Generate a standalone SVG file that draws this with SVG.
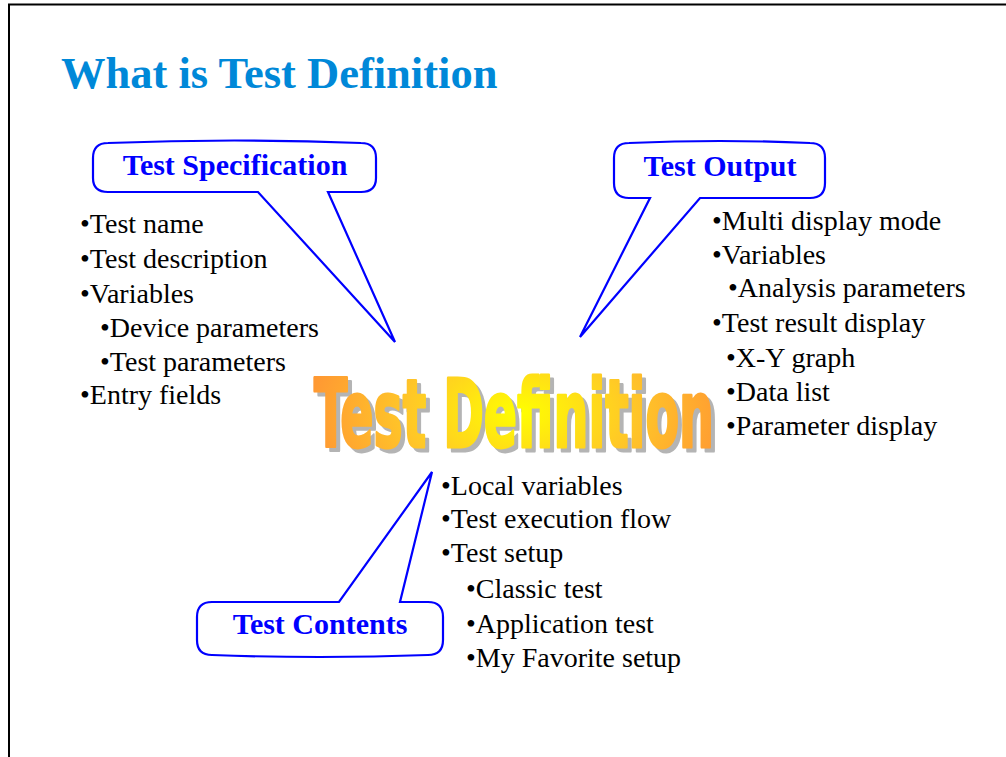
<svg xmlns="http://www.w3.org/2000/svg" width="1006" height="757" viewBox="0 0 1006 757">
<defs>
<style>
.title{font-family:"Liberation Serif","Times New Roman",serif;font-weight:bold;font-size:44.5px;fill:#0088d8}
.call{fill:#fff;stroke:#0000ff;stroke-width:2.2;stroke-linejoin:miter}
.clab{font-family:"Liberation Serif","Times New Roman",serif;font-weight:bold;font-size:30px;fill:#0000ff;text-anchor:middle}
.b{font-family:"Liberation Serif","Times New Roman",serif;font-size:28px;fill:#000}
.wa{font-family:"DejaVu Sans Condensed","DejaVu Sans",sans-serif;font-weight:bold;font-size:95px;stroke-width:3;stroke-linejoin:round}
</style>
<radialGradient id="g" gradientUnits="userSpaceOnUse" cx="520" cy="412" r="210" gradientTransform="translate(520 412) scale(1 0.6) translate(-520 -412)">
<stop offset="0" stop-color="#ffff00"/>
<stop offset="0.55" stop-color="#ffc628"/>
<stop offset="1" stop-color="#ff9933"/>
</radialGradient>
</defs>
<rect x="0" y="0" width="1006" height="757" fill="#fff"/>
<path d="M9,757 L9,4.5 L1006,4.5" fill="none" stroke="#000" stroke-width="2"/>
<text class="title" x="61" y="88">What is Test Definition</text>

<g id="wordart">
<text class="wa" x="318" y="451" textLength="400" lengthAdjust="spacingAndGlyphs" fill="#b4b4b4" stroke="#b4b4b4">Test Definition</text>
<text class="wa" x="314" y="447" textLength="400" lengthAdjust="spacingAndGlyphs" fill="url(#g)" stroke="url(#g)">Test Definition</text>
</g>

<g id="connectors">
</g>

<g id="spec">
<path class="call" d="M108,143 Q234,138 361,143 Q376,143 376,158 L376,178 Q376,192 361,192 L328,192 L395,342 L258,192 L108,192 Q93,192 93,178 L93,158 Q93,143 108,143 Z"/>
<text class="clab" x="235" y="175">Test Specification</text>
<text class="b" x="80" y="233">•Test name</text>
<text class="b" x="80" y="268">•Test description</text>
<text class="b" x="80" y="303">•Variables</text>
<text class="b" x="100" y="337">•Device parameters</text>
<text class="b" x="100" y="371">•Test parameters</text>
<text class="b" x="80" y="404">•Entry fields</text>
</g>

<g id="output">
<path class="call" d="M629,143 Q720,139 810,143 Q825,143 825,158 L825,183 Q825,198 810,198 L700,198 L580,337 L650,198 L629,198 Q614,198 614,183 L614,158 Q614,143 629,143 Z"/>
<text class="clab" x="720" y="176">Test Output</text>
<text class="b" x="712" y="230">•Multi display mode</text>
<text class="b" x="712" y="264">•Variables</text>
<text class="b" x="728" y="297">•Analysis parameters</text>
<text class="b" x="712" y="332">•Test result display</text>
<text class="b" x="726" y="367">•X-Y graph</text>
<text class="b" x="726" y="401">•Data list</text>
<text class="b" x="726" y="435">•Parameter display</text>
</g>

<g id="contents">
<path class="call" d="M212,602 L339,602 L432,472 L400,602 L428,602 Q443,602 443,617 L443,640 Q443,655 428,655 Q320,659 212,655 Q197,655 197,640 L197,617 Q197,602 212,602 Z"/>
<text class="clab" x="320" y="634">Test Contents</text>
<text class="b" x="441" y="495">•Local variables</text>
<text class="b" x="441" y="528">•Test execution flow</text>
<text class="b" x="441" y="562">•Test setup</text>
<text class="b" x="466" y="598">•Classic test</text>
<text class="b" x="466" y="633">•Application test</text>
<text class="b" x="466" y="667">•My Favorite setup</text>
</g>
</svg>
